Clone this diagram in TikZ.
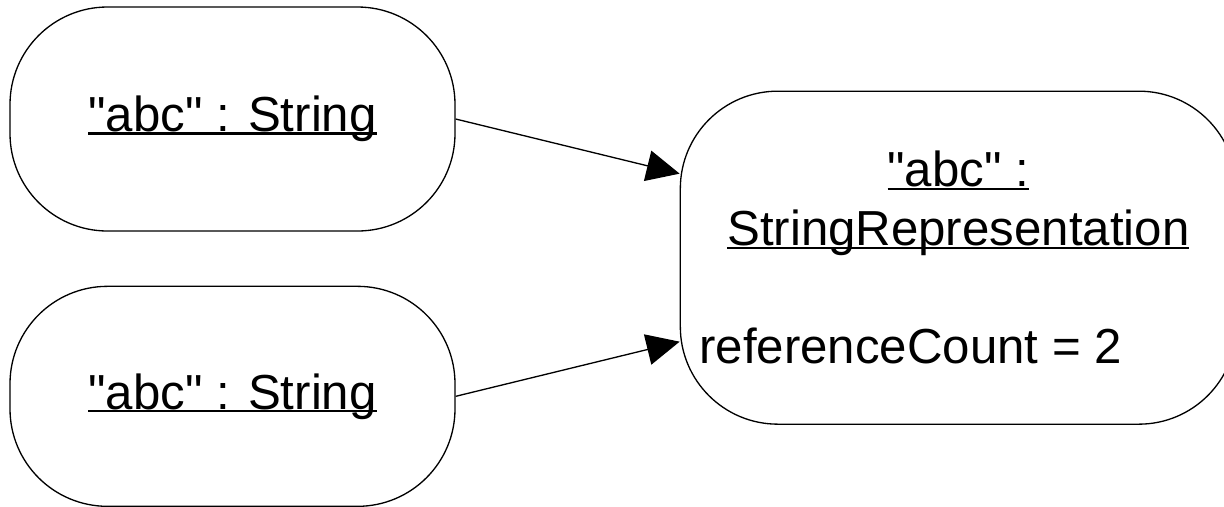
\documentclass[tikz,border=0pt]{standalone}
\usepackage{fontspec}
\setmainfont{Liberation Sans}
\usepackage{tikz}
\usetikzlibrary{positioning,calc,arrows.meta}
\newcommand\objname[1]{\leavevmode\setbox0\hbox{#1}\rlap{\rule[-0.06em]{\wd0}{0.045em}}\box0}
\newcommand\abc{\textquotedbl{}abc\textquotedbl{}}
\tikzset{
	objbox/.style = {
		draw = black,
		fill = white,
		line width = 0.75pt,
		rectangle,
		rounded corners = 1.95cm,
		text centered,
		inner sep = 0pt,
		font = \fontsize{28}{33.5}\selectfont
	},
	link/.style = {
		-{Triangle[length=0.66cm, width=0.62cm]},
		line width = 0.75pt
	}
}
\begin{document}
\begin{tikzpicture}
    \useasboundingbox (0,0) rectangle (24.48,-10.12) ;
    \node [objbox, minimum width = 8.9cm, minimum height = 4.48cm] (str1) at (4.65,-2.38) {\objname{\abc{} : String}} ;
    \node [objbox, minimum width = 8.9cm, minimum height = 4.4cm, below = 1.08cm of str1] (str2) {\objname{\abc{} : String}} ;
    \coordinate (mid) at ($(str1.east)!0.5!(str2.east)$) ;
    \node [objbox, minimum width = 11.12cm, minimum height = 6.66cm, right = 4.48cm of mid] (rep) {\parbox{10.36cm}{{\centering{}\objname{\abc{} :}\\ \objname{StringRepresentation}\par}\vspace{\baselineskip}\noindent{}referenceCount = 2}} ;

    \draw [link] (str1.east) -- ([yshift=1.68cm]rep.west) ;
    \draw [link] (str2.east) -- ([yshift=-1.68cm]rep.west) ;
\end{tikzpicture}
\end{document}
